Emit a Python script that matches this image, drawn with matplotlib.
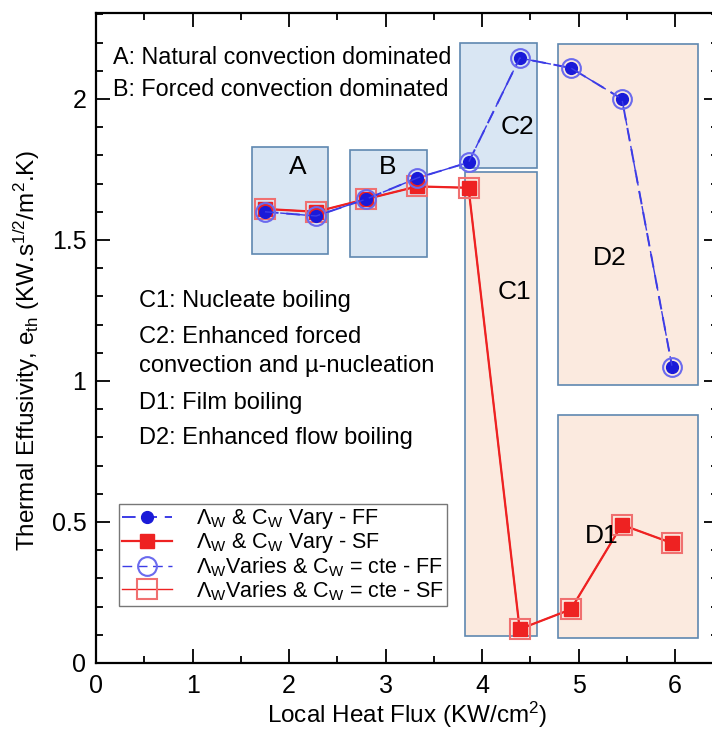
import matplotlib
matplotlib.use('Agg')
import matplotlib.pyplot as plt
from matplotlib.patches import Rectangle
from matplotlib.ticker import MultipleLocator

plt.rcParams['font.family'] = ['Liberation Sans', 'DejaVu Sans']
plt.rcParams['mathtext.fontset'] = 'custom'
plt.rcParams['mathtext.rm'] = 'Liberation Sans'
plt.rcParams['mathtext.it'] = 'Liberation Sans:italic'

# data
flux = [1.75, 2.28, 2.80, 3.33, 3.86, 4.39, 4.92, 5.45, 5.97]
eth_ff = [1.60, 1.585, 1.645, 1.72, 1.775, 2.145, 2.11, 2.00, 1.05]
eth_sf = [1.61, 1.60, 1.645, 1.69, 1.685, 0.12, 0.19, 0.49, 0.425]

# regime boxes: (x0, x1, y0, y1)
box_a = (1.62, 2.40, 1.45, 1.83)
box_b = (2.63, 3.43, 1.44, 1.82)
box_c2 = (3.77, 4.57, 1.755, 2.20)
box_c1 = (3.82, 4.57, 0.095, 1.74)
box_d2 = (4.79, 6.24, 0.985, 2.195)
box_d1 = (4.79, 6.24, 0.09, 0.88)

blue = '#3c3ce6'
red = '#ee2222'
fill_blue = '#d9e6f3'
fill_orange = '#fbeadf'
edge = '#5f88b0'

fig = plt.figure(figsize=(7.12, 7.32), dpi=100)
ax = fig.add_axes([0.135, 0.0943, 0.874, 0.888])

for b, c in [(box_a, fill_blue), (box_b, fill_blue), (box_c2, fill_blue),
             (box_c1, fill_orange), (box_d2, fill_orange), (box_d1, fill_orange)]:
    ax.add_patch(Rectangle((b[0], b[2]), b[1] - b[0], b[3] - b[2],
                           facecolor=c, edgecolor=edge, lw=1.2, zorder=1))

# SF series
ax.plot(flux, eth_sf, '-', color=red, lw=1.6, marker='s', ms=9.5,
        mfc=red, mec=red, zorder=3, label=r'Λ$_\mathregular{W}$ & C$_\mathregular{W}$ Vary - SF')
ax.plot(flux, eth_sf, '-', color=red, lw=1.0, marker='s', ms=14.5,
        mfc='none', mec='#f07070', mew=1.5, zorder=3,
        label=r'Λ$_\mathregular{W}$Varies & C$_\mathregular{W}$ = cte - SF')
# FF series
ax.plot(flux, eth_ff, '--', color=blue, lw=1.4, dashes=(7, 4), marker='o', ms=8.5,
        mfc='#1a1ad8', mec='#1a1ad8', zorder=4,
        label=r'Λ$_\mathregular{W}$ & C$_\mathregular{W}$ Vary - FF')
ax.plot(flux, eth_ff, '--', color=blue, lw=1.0, dashes=(7, 4), marker='o', ms=13.5,
        mfc='none', mec='#6a6aee', mew=1.5, zorder=4,
        label=r'Λ$_\mathregular{W}$Varies & C$_\mathregular{W}$ = cte - FF')

h, l = ax.get_legend_handles_labels()
order = [2, 0, 3, 1]
ax.legend([h[i] for i in order], [l[i] for i in order], loc='lower left',
          bbox_to_anchor=(0.037, 0.088), borderaxespad=0, fontsize=15.5,
          fancybox=False, edgecolor='#777777', framealpha=1, handlelength=2.3,
          labelspacing=0.0, borderpad=0.15, handletextpad=1.1)

# region letters
for t, xx, yy in [('A', 2.09, 1.757), ('B', 3.02, 1.757), ('C2', 4.37, 1.90),
                  ('C1', 4.34, 1.316), ('D2', 5.32, 1.436), ('D1', 5.24, 0.45)]:
    ax.text(xx, yy, t, fontsize=19, ha='center', va='center', zorder=5)

ax.text(0.17, 2.148, 'A: Natural convection dominated', fontsize=16.8, va='center', zorder=5)
ax.text(0.17, 2.035, 'B: Forced convection dominated', fontsize=16.8, va='center', zorder=5)

notes = ['C1: Nucleate boiling', 'C2: Enhanced forced',
         'convection and µ-nucleation', 'D1: Film boiling', 'D2: Enhanced flow boiling']
note_y = [1.284, 1.157, 1.053, 0.922, 0.798]
for t, yy in zip(notes, note_y):
    ax.text(0.44, yy, t, fontsize=17, va='center', zorder=5)

ax.set_xlim(0, 6.45)
ax.set_ylim(0, 2.305)
ax.xaxis.set_major_locator(MultipleLocator(1))
ax.xaxis.set_minor_locator(MultipleLocator(0.5))
ax.yaxis.set_minor_locator(MultipleLocator(0.1))
ax.set_yticks([0, 0.5, 1, 1.5, 2])
ax.set_yticklabels(['0', '0.5', '1', '1.5', '2'])
ax.tick_params(which='both', direction='in', top=True, right=True, labelsize=18, width=1.3)
ax.tick_params(which='major', length=10)
ax.tick_params(which='minor', length=5)
ax.tick_params(axis='x', which='major', pad=8)
ax.tick_params(axis='y', which='major', pad=7)
for s in ax.spines.values():
    s.set_linewidth(1.6)

ax.set_xlabel(r'Local Heat Flux (KW/cm$^2$)', fontsize=17.5)
ax.set_ylabel(r'Thermal Effusivity, e$_\mathregular{th}$ (KW.s$^{1/2}$/m$^2$.K)', fontsize=17.5)
ax.xaxis.set_label_coords(0.5, -0.057)
ax.yaxis.set_label_coords(-0.087, 0.48)

fig.savefig('out.png', dpi=100)
